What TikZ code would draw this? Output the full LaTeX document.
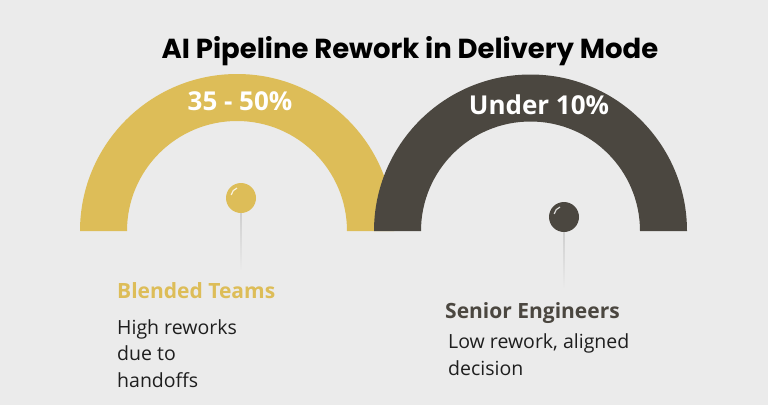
\documentclass[tikz,border=0pt]{standalone}
\usepackage{fontspec}
\setmainfont{Open Sans}
\newfontfamily\titlefont{Poppins}
\usetikzlibrary{fadings}
\definecolor{bg}{HTML}{EBEBEB}
\definecolor{gold}{HTML}{DDBD58}
\definecolor{dark}{HTML}{4B4740}
\definecolor{stick}{HTML}{CFCFCF}
\definecolor{ink}{HTML}{1E1E1E}
\tikzset{
  pinhead/.style={circle, minimum size=30pt, inner sep=0pt, draw=none},
  pinline/.style={line width=2pt, draw=stick, path fading=south},
  bigval/.style={text=white, font=\fontsize{26}{28}\selectfont\bfseries, anchor=base, inner sep=0pt},
  head/.style={font=\fontsize{21}{24}\selectfont\bfseries, anchor=base west, inner sep=0pt},
  body/.style={text=ink, font=\fontsize{19.5}{26.5}\selectfont, anchor=base west, inner sep=0pt},
}
\begin{document}
\begin{tikzpicture}[x=1pt,y=-1pt]
\fill[bg] (0,0) rectangle (768,405);
\useasboundingbox (0,0) rectangle (768,405);
% title
\node[font=\titlefont\fontsize{27.5}{30}\selectfont\bfseries, text=black, anchor=base, inner sep=0pt] (title) at (410,58) {AI Pipeline Rework in Delivery Mode};
% rings
\fill[gold] (80,231) arc[start angle=180, end angle=360, radius=157] -- (347,231) arc[start angle=360, end angle=180, radius=110] -- cycle;
\fill[dark] (374,231) arc[start angle=180, end angle=360, radius=156.5] -- (640,231) arc[start angle=360, end angle=180, radius=109.5] -- cycle;
\node[bigval] (v1) at (240,110) {35 - 50\%};
\node[bigval] (v2) at (539,114) {Under 10\%};
% pins
\coordinate (e1) at (241,270);
\coordinate (e2) at (564,288);
\node[pinhead, fill=gold] (p1) at (241,198) {};
\node[pinhead, fill=dark] (p2) at (564,217) {};
\draw[pinline] (p1.south) -- (e1);
\draw[pinline] (p2.south) -- (e2);
\draw[white, opacity=0.8, line width=1.2pt] ([shift={(-4,-10)}]p1.center) arc[start angle=250, end angle=190, radius=9];
\draw[white, opacity=0.8, line width=1.2pt] ([shift={(-4,-10)}]p2.center) arc[start angle=250, end angle=190, radius=9];
% texts
\node[head, text=gold] (h1) at (117,298) {Blended Teams};
\node[body] (b1a) at (117,334) {High reworks};
\node[body] (b1b) at (117,360) {due to};
\node[body] (b1c) at (117,387) {handoffs};
\node[head, text=dark] (h2) at (445,318) {Senior Engineers};
\node[body] (b2a) at (448,348) {Low rework, aligned};
\node[body] (b2b) at (448,375) {decision};
\end{tikzpicture}
\end{document}
